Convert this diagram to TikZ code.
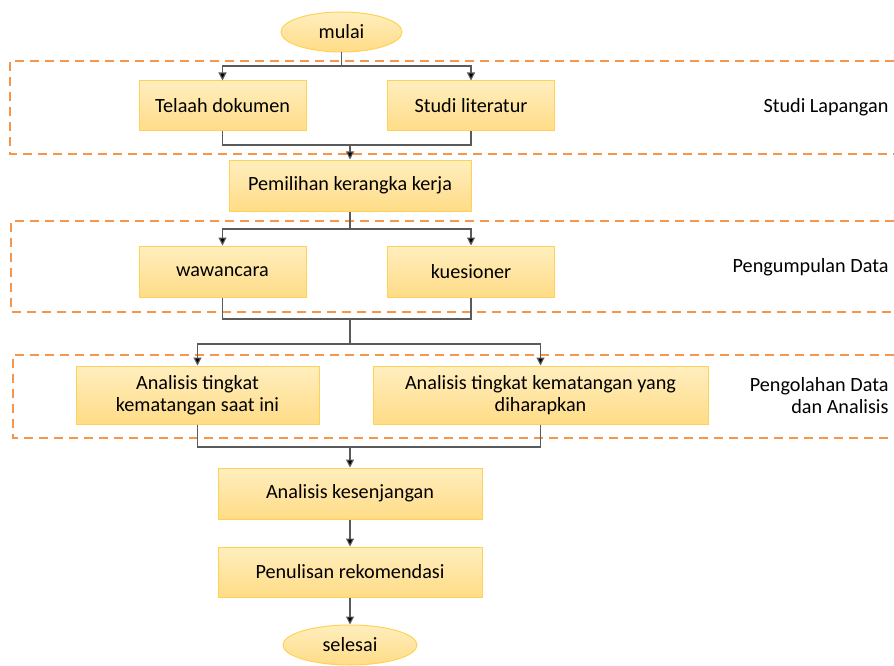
\documentclass[tikz,border=0pt]{standalone}
\usepackage{fontspec}
\setmainfont{Carlito}
\usepackage{tikz}
\usetikzlibrary{arrows.meta,shapes.geometric}

\definecolor{boxtop}{RGB}{255,238,190}
\definecolor{boxbot}{RGB}{255,220,135}
\definecolor{boxline}{RGB}{255,210,85}
\definecolor{dashorange}{RGB}{245,150,75}
\definecolor{linegray}{RGB}{90,90,90}

\tikzset{
  stepbox/.style={rectangle, draw=boxline, line width=1pt, top color=boxtop, bottom color=boxbot,
    inner sep=0pt, align=center},
  terminal/.style={ellipse, draw=boxline, line width=1pt, top color=boxtop, bottom color=boxbot,
    inner sep=0pt, minimum height=40},
  line/.style={draw=linegray, line width=1.1pt},
  arr/.style={line, -{Triangle[length=8pt,width=8pt,fill=black]}},
  phase/.style={draw=dashorange, line width=1.6pt, dash pattern=on 9pt off 6pt},
  phaselabel/.style={anchor=east, align=right}
}

\begin{document}
\begin{tikzpicture}[x=1pt, y=-1pt, font=\fontsize{20.2}{22}\selectfont]
  \useasboundingbox (0,0) rectangle (894,666);

  % Define the phase frames
  \draw[phase] (894,61) -| (10,154) -- (894,154);
  \draw[phase] (894,221) -| (11,312) -- (894,312);
  \draw[phase] (894,355) -| (13,438) -- (894,438);

  % Define the phase labels
  \node[phaselabel] (labA) at (892,107) {Studi Lapangan};
  \node[phaselabel] (labB) at (892,267) {Pengumpulan Data};
  \node[phaselabel] (labC) at (892,396) {Pengolahan Data\\dan Analisis};

  % Define the steps
  \node[terminal, minimum width=121] (mulai) at (341.5,32) {mulai};
  \node[stepbox, minimum width=167, minimum height=50] (telaah) at (222.5,106) {Telaah dokumen};
  \node[stepbox, minimum width=167, minimum height=50] (studi) at (471,106) {Studi literatur};
  \node[stepbox, minimum width=242, minimum height=51] (pemilihan) at (350,185.5) {Pemilihan kerangka kerja};
  \node[stepbox, minimum width=167, minimum height=51] (wawancara) at (222.5,271.5) {wawancara};
  \node[stepbox, minimum width=167, minimum height=51] (kuesioner) at (471,271.5) {kuesioner};
  \node[stepbox, minimum width=243, minimum height=58] (saatini) at (197.5,395) {Analisis tingkat\\kematangan saat ini};
  \node[stepbox, minimum width=335, minimum height=58] (harapan) at (540.5,395) {Analisis tingkat kematangan yang\\diharapkan};
  \node[stepbox, minimum width=264, minimum height=51] (gap) at (350,493.5) {Analisis kesenjangan};
  \node[stepbox, minimum width=264, minimum height=50] (rekom) at (350,572) {Penulisan rekomendasi};
  \node[terminal, minimum width=134] (selesai) at (350,645) {selesai};

  % Define the junctions
  \coordinate (j1) at (341.5,66);
  \coordinate (j2) at (350,145);
  \coordinate (j3) at (350,229);
  \coordinate (j4) at (350,319);
  \coordinate (j5) at (350,344);
  \coordinate (j6) at (350,447);

  % Draw the connectors
  \draw[line] (mulai.south) -- (j1);
  \foreach \n in {telaah,studi} {
    \draw[arr] (j1) -| (\n.north);
    \draw[line] (\n.south) |- (j2);
  }
  \draw[arr] (j2) -- (pemilihan.north);
  \draw[line] (pemilihan.south) -- (j3);
  \foreach \n in {wawancara,kuesioner} {
    \draw[arr] (j3) -| (\n.north);
    \draw[line] (\n.south) |- (j4);
  }
  \draw[line] (j4) -- (j5);
  \foreach \n in {saatini,harapan} {
    \draw[arr] (j5) -| (\n.north);
    \draw[line] (\n.south) |- (j6);
  }
  \draw[arr] (j6) -- (gap.north);
  \draw[arr] (gap.south) -- (rekom.north);
  \draw[arr] (rekom.south) -- (selesai.north);

\end{tikzpicture}
\end{document}
